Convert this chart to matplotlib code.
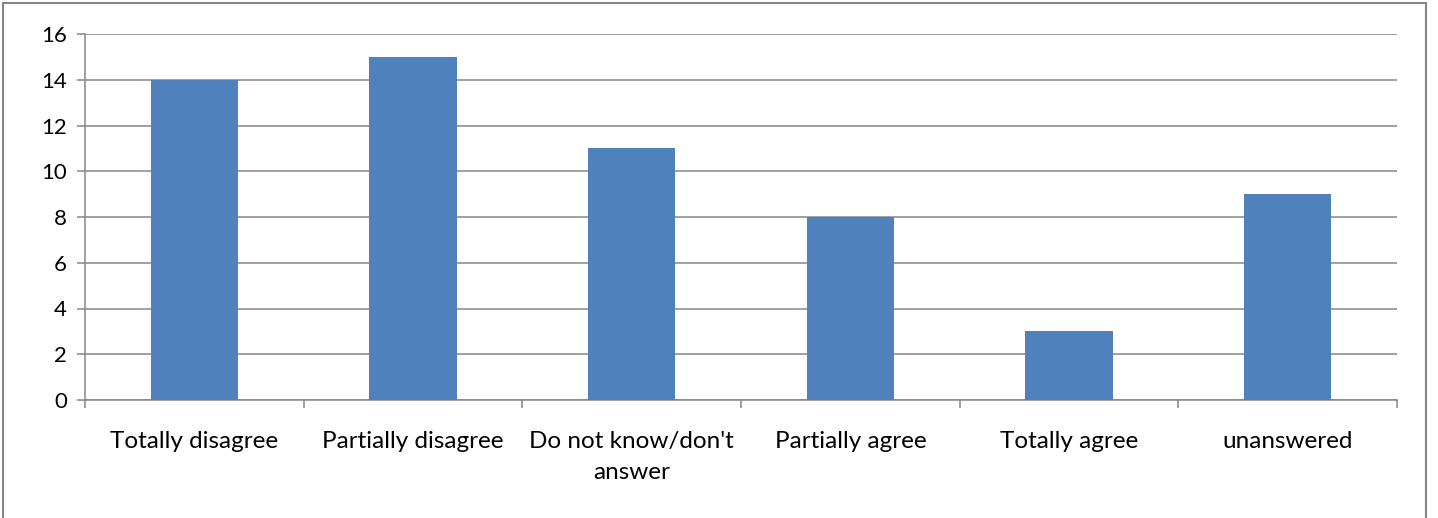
import matplotlib.pyplot as plt
from matplotlib.patches import Rectangle

# Данные
categories = ['Totally disagree', 'Partially disagree', "Do not know/don't\nanswer",
              'Partially agree', 'Totally agree', 'unanswered']
values = [14, 15, 11, 8, 3, 9]
y_ticks = [0, 2, 4, 6, 8, 10, 12, 14, 16]

plt.rcParams['font.family'] = ['Lato', 'DejaVu Sans']

W, H = 1438, 518
fig = plt.figure(figsize=(W / 100, H / 100), dpi=100)
ax = fig.add_axes([85 / W, 1 - 400 / H, (1397 - 85) / W, (400 - 34) / H])

grey = '#868686'
x = range(len(categories))
ax.bar(x, values, width=0.40, color='#4F81BD', zorder=3)

ax.set_xlim(-0.5, len(categories) - 0.5)
ax.set_ylim(0, 16)
ax.set_yticks(y_ticks)
ax.yaxis.grid(True, color=grey, linewidth=1.1, zorder=0)

# метки категорий без засечек, засечки на границах
ax.set_xticks(list(x))
ax.set_xticklabels(categories, fontsize=17.5, linespacing=1.6)
ax.tick_params(axis='x', length=0, pad=22)
ax.set_xticks([i - 0.5 for i in range(len(categories) + 1)], minor=True)
ax.tick_params(axis='x', which='minor', length=6, width=1.1, color=grey, direction='out')
ax.tick_params(axis='y', length=6, width=1.1, color=grey, labelsize=16, pad=7)

for side in ['top', 'right']:
    ax.spines[side].set_visible(False)
for side in ['left', 'bottom']:
    ax.spines[side].set_color(grey)
    ax.spines[side].set_linewidth(1.1)

# рамка вокруг диаграммы
fig.patches.append(Rectangle((3 / W, -0.05), (1426 - 3) / W, 1.05 - 3 / H,
                             transform=fig.transFigure, fill=False,
                             edgecolor=grey, linewidth=1.5))

fig.savefig('out.png', dpi=100)
